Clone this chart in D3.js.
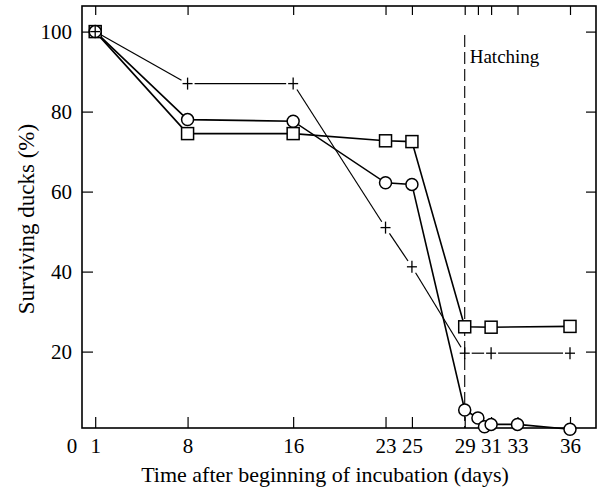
<!DOCTYPE html>
<html>
<head>
<meta charset="utf-8">
<script src="https://cdn.jsdelivr.net/npm/d3@7"></script>
<style>
  body { margin: 0; background: white; }
  text { font-family: "Liberation Serif", "DejaVu Serif", serif; fill: black; }
</style>
</head>
<body>
<div id="chart"></div>
<script>
// data (day -> % surviving)
let square_days = [1, 8, 16, 23, 25, 29, 31, 36];
let square_vals = [100, 74.5, 74.5, 72.7, 72.5, 26.2, 26.1, 26.3];

let circle_days = [1, 8, 16, 23, 25, 29, 30, 30.5, 31, 33, 36];
let circle_vals = [100, 78, 77.6, 62.2, 61.8, 5.4, 3.4, 1.2, 1.8, 1.8, 0.6];

let plus_days = [1, 8, 16, 23, 25, 29, 31, 36];
let plus_vals = [100, 87, 87, 51, 41.2, 19.6, 19.6, 19.6];

let x_ticks = [1, 8, 16, 23, 25, 29, 31, 33, 36];
let x_ticks_top = [1, 8, 16, 23, 25, 29, 30, 31, 33, 36];
let y_ticks = [20, 40, 60, 80, 100];
let hatching_day = 29;

let width = 602;
let height = 491;
let margin = { top: 6, right: 6, bottom: 63, left: 82 };
let tick_font = 21;

let svg = d3
  .select("#chart")
  .append("svg")
  .attr("width", width)
  .attr("height", height);

// the original drawing spaces 33..36 wider than the rest, so the scale is piecewise
let x = d3
  .scaleLinear()
  .domain([0, 33, 36, 37.5])
  .range([margin.left, 517.5, 570, width - margin.right]);

let y = d3
  .scaleLinear()
  .domain([0.9, 106.4])
  .range([height - margin.bottom, margin.top]);

let plot_bottom = height - margin.bottom;
let plot_right = width - margin.right;

// axes, ticks pointing inward on all four sides
svg
  .append("g")
  .attr("transform", `translate(0,${plot_bottom})`)
  .call(d3.axisBottom(x).tickValues(x_ticks).tickSizeInner(-11).tickSizeOuter(0).tickPadding(10))
  .call((g) => g.select(".domain").remove())
  .call((g) => g.selectAll("line").attr("stroke-width", 1.2))
  .call((g) =>
    g.selectAll("text").attr("font-size", tick_font).attr("font-family", "Liberation Serif")
  );

svg
  .append("g")
  .attr("transform", `translate(0,${margin.top})`)
  .call(d3.axisTop(x).tickValues(x_ticks_top).tickSizeInner(-9).tickSizeOuter(0).tickFormat(""))
  .call((g) => g.select(".domain").remove())
  .call((g) => g.selectAll("line").attr("stroke-width", 1.2));

svg
  .append("g")
  .attr("transform", `translate(${margin.left},0)`)
  .call(d3.axisLeft(y).tickValues(y_ticks).tickSizeInner(-11).tickSizeOuter(0).tickPadding(10))
  .call((g) => g.select(".domain").remove())
  .call((g) => g.selectAll("line").attr("stroke-width", 1.2))
  .call((g) =>
    g.selectAll("text").attr("font-size", tick_font).attr("font-family", "Liberation Serif")
  );

svg
  .append("g")
  .attr("transform", `translate(${plot_right},0)`)
  .call(d3.axisRight(y).tickValues(y_ticks).tickSizeInner(-10).tickSizeOuter(0).tickFormat(""))
  .call((g) => g.select(".domain").remove())
  .call((g) => g.selectAll("line").attr("stroke-width", 1.2));

// "0" sits just left of the frame corner
svg
  .append("text")
  .attr("x", x(0) - 10)
  .attr("y", plot_bottom + 25)
  .attr("text-anchor", "middle")
  .attr("font-size", tick_font)
  .text("0");

// frame
svg
  .append("rect")
  .attr("x", margin.left)
  .attr("y", margin.top)
  .attr("width", plot_right - margin.left)
  .attr("height", plot_bottom - margin.top)
  .attr("fill", "none")
  .attr("stroke", "black")
  .attr("stroke-width", 1.6);

// hatching marker
svg
  .append("line")
  .attr("x1", x(hatching_day))
  .attr("x2", x(hatching_day))
  .attr("y1", 35)
  .attr("y2", plot_bottom)
  .attr("stroke", "black")
  .attr("stroke-width", 1.1)
  .attr("stroke-dasharray", "12,5");

svg
  .append("text")
  .attr("x", x(hatching_day) + 5)
  .attr("y", 63)
  .attr("font-size", 19)
  .text("Hatching");

// axis titles
svg
  .append("text")
  .attr("x", 325)
  .attr("y", 482)
  .attr("text-anchor", "middle")
  .attr("font-size", 22)
  .text("Time after beginning of incubation (days)");

svg
  .append("text")
  .attr("transform", `translate(34,219) rotate(-90)`)
  .attr("text-anchor", "middle")
  .attr("font-size", 23)
  .text("Surviving ducks (%)");

// lines
let line = d3
  .line()
  .x((d) => x(d[0]))
  .y((d) => y(d[1]));

let square_pts = d3.zip(square_days, square_vals);
let circle_pts = d3.zip(circle_days, circle_vals);
let plus_pts = d3.zip(plus_days, plus_vals);

svg
  .append("path")
  .datum(square_pts)
  .attr("d", line)
  .attr("fill", "none")
  .attr("stroke", "black")
  .attr("stroke-width", 1.6);

svg
  .append("path")
  .datum(circle_pts.filter((d) => d[0] != 30.5))
  .attr("d", line)
  .attr("fill", "none")
  .attr("stroke", "black")
  .attr("stroke-width", 1.6);

// the + series is drawn with small gaps around each cross
let gap = 7;
let plus_segs = d3.pairs(plus_pts).map(([a, b]) => {
  let x0 = x(a[0]), y0 = y(a[1]), x1 = x(b[0]), y1 = y(b[1]);
  let len = Math.hypot(x1 - x0, y1 - y0);
  let ux = (x1 - x0) / len, uy = (y1 - y0) / len;
  return [x0 + ux * gap, y0 + uy * gap, x1 - ux * gap, y1 - uy * gap];
});

svg
  .selectAll(".plusseg")
  .data(plus_segs)
  .join("line")
  .attr("class", "plusseg")
  .attr("x1", (d) => d[0])
  .attr("y1", (d) => d[1])
  .attr("x2", (d) => d[2])
  .attr("y2", (d) => d[3])
  .attr("stroke", "black")
  .attr("stroke-width", 1.2);

// markers
svg
  .selectAll(".sq")
  .data(square_pts)
  .join("rect")
  .attr("class", "sq")
  .attr("x", (d) => x(d[0]) - 6)
  .attr("y", (d) => y(d[1]) - 6)
  .attr("width", 12)
  .attr("height", 12)
  .attr("fill", "white")
  .attr("stroke", "black")
  .attr("stroke-width", 1.5);

svg
  .selectAll(".circ")
  .data(circle_pts)
  .join("circle")
  .attr("class", "circ")
  .attr("cx", (d) => x(d[0]))
  .attr("cy", (d) => y(d[1]))
  .attr("r", 6)
  .attr("fill", "white")
  .attr("stroke", "black")
  .attr("stroke-width", 1.5);

let plus_g = svg
  .selectAll(".plus")
  .data(plus_pts)
  .join("g")
  .attr("class", "plus")
  .attr("transform", (d) => `translate(${x(d[0])},${y(d[1])})`);

plus_g
  .append("line")
  .attr("x1", -5)
  .attr("x2", 5)
  .attr("stroke", "black")
  .attr("stroke-width", 1.3);

plus_g
  .append("line")
  .attr("y1", -6)
  .attr("y2", 6)
  .attr("stroke", "black")
  .attr("stroke-width", 1.3);
</script>
</body>
</html>
